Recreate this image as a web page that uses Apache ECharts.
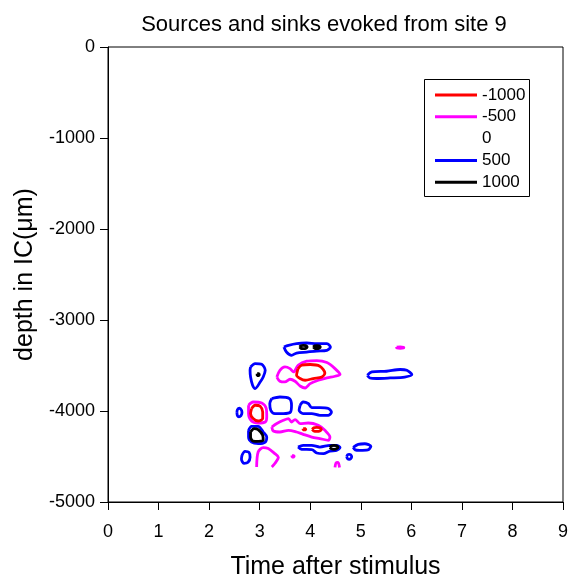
<!DOCTYPE html>
<html>
<head>
<meta charset="utf-8">
<script src="https://cdn.jsdelivr.net/npm/echarts@6/dist/echarts.min.js"></script>
<style>
  html, body { margin: 0; padding: 0; background: #fff; }
  #chart { width: 571px; height: 581px; }
</style>
</head>
<body>
<div id="chart"></div>
<script>
// Contour levels shown in the legend (current source density)
const levels = ['-1000', '-500', '0', '500', '1000'];

// Axis ticks
const timeTicks = [0, 1, 2, 3, 4, 5, 6, 7, 8, 9];
const depthTicks = [0, -1000, -2000, -3000, -4000, -5000];

// Closed contour loops, [time, depth] pairs, one array per level
const loopsNeg1000 = [
  [[3.76,-3534],[3.83,-3497],[4.00,-3489],[4.19,-3508],[4.29,-3582],[4.23,-3627],[4.06,-3643],[3.90,-3662],[3.80,-3643],[3.73,-3607]],
  [[2.84,-3973],[2.91,-3937],[3.01,-3948],[3.06,-4011],[3.06,-4083],[2.97,-4110],[2.87,-4083],[2.82,-4028]],
  [[3.86,-4195],[3.91,-4195],[3.91,-4208],[3.86,-4208]],
  [[4.04,-4202],[4.07,-4185],[4.13,-4180],[4.19,-4185],[4.22,-4202],[4.19,-4219],[4.13,-4224],[4.07,-4219]]
];

const loopsNeg500 = [
  [[5.71,-3298],[5.78,-3295],[5.85,-3298],[5.85,-3308],[5.78,-3311],[5.71,-3308]],
  [[3.34,-3627],[3.40,-3553],[3.50,-3516],[3.60,-3534],[3.67,-3571],[3.76,-3497],[3.93,-3453],[4.13,-3446],[4.33,-3468],[4.49,-3534],[4.59,-3600],[4.49,-3618],[4.33,-3637],[4.16,-3662],[4.00,-3699],[3.90,-3747],[3.80,-3725],[3.70,-3673],[3.60,-3651],[3.50,-3681],[3.40,-3673]],
  [[2.78,-3937],[2.87,-3901],[3.04,-3912],[3.13,-3973],[3.14,-4066],[3.11,-4121],[2.97,-4132],[2.84,-4110],[2.78,-4028]],
  [[3.24,-4176],[3.34,-4138],[3.47,-4102],[3.57,-4083],[3.63,-4121],[3.70,-4094],[3.80,-4138],[3.96,-4132],[4.16,-4157],[4.29,-4212],[4.39,-4286],[4.36,-4322],[4.19,-4303],[4.03,-4286],[3.86,-4256],[3.73,-4231],[3.57,-4212],[3.40,-4231],[3.27,-4220]],
  [[3.64,-4490],[3.68,-4490],[3.68,-4506],[3.64,-4506]]
];

// Contours of -500 that run out through the bottom of the recorded depth range
const arcsNeg500 = [
  [[2.94,-4616],[2.97,-4451],[3.07,-4402],[3.17,-4413],[3.30,-4468],[3.37,-4507],[3.30,-4578],[3.24,-4616]],
  [[4.49,-4620],[4.51,-4570],[4.55,-4565],[4.58,-4620]]
];

const loops500 = [
  [[3.48,-3296],[3.57,-3278],[3.73,-3259],[3.93,-3253],[4.13,-3259],[4.33,-3259],[4.40,-3297],[4.33,-3333],[4.13,-3341],[3.93,-3352],[3.73,-3363],[3.63,-3388],[3.53,-3352]],
  [[2.82,-3516],[2.91,-3479],[3.04,-3487],[3.11,-3553],[3.07,-3627],[3.01,-3682],[2.91,-3754],[2.86,-3718],[2.82,-3627],[2.81,-3553]],
  [[5.13,-3607],[5.22,-3571],[5.51,-3563],[5.78,-3544],[5.91,-3553],[6.01,-3600],[5.87,-3627],[5.58,-3637],[5.31,-3643],[5.18,-3637]],
  [[2.55,-4017],[2.56,-3985],[2.60,-3970],[2.64,-3990],[2.65,-4020],[2.63,-4050],[2.59,-4064],[2.56,-4050]],
  [[3.24,-3863],[3.40,-3846],[3.59,-3863],[3.63,-3937],[3.61,-4011],[3.47,-4028],[3.30,-4028],[3.22,-3992],[3.20,-3918]],
  [[3.80,-3937],[3.86,-3901],[3.96,-3918],[4.03,-3962],[4.19,-3962],[4.36,-3973],[4.42,-4011],[4.36,-4047],[4.19,-4047],[4.03,-4028],[3.86,-4028],[3.78,-3992]],
  [[2.78,-4212],[2.84,-4168],[2.97,-4168],[3.07,-4231],[3.14,-4286],[3.11,-4341],[2.97,-4358],[2.84,-4341],[2.78,-4286]],
  [[3.76,-4396],[3.86,-4377],[4.03,-4377],[4.19,-4396],[4.39,-4377],[4.52,-4377],[4.59,-4402],[4.52,-4432],[4.39,-4440],[4.26,-4468],[4.13,-4461],[4.03,-4424],[3.83,-4421]],
  [[4.85,-4399],[4.95,-4366],[5.08,-4360],[5.20,-4388],[5.14,-4427],[4.98,-4432],[4.89,-4427]],
  [[4.72,-4503],[4.74,-4482],[4.77,-4476],[4.80,-4482],[4.82,-4503],[4.80,-4524],[4.77,-4530],[4.74,-4524]],
  [[2.65,-4487],[2.71,-4443],[2.79,-4454],[2.81,-4509],[2.77,-4564],[2.69,-4575],[2.64,-4531]]
];

const loops1000 = [
  [[3.79,-3297],[3.82,-3282],[3.86,-3279],[3.91,-3282],[3.94,-3297],[3.91,-3312],[3.86,-3315],[3.82,-3312]],
  [[4.06,-3297],[4.09,-3283],[4.13,-3281],[4.17,-3283],[4.20,-3297],[4.17,-3311],[4.13,-3313],[4.09,-3311]],
  [[2.95,-3590],[2.99,-3590],[2.99,-3610],[2.95,-3610]],
  [[2.82,-4231],[2.89,-4193],[2.97,-4204],[3.06,-4267],[3.07,-4322],[2.97,-4333],[2.87,-4330],[2.82,-4286]],
  [[4.39,-4399],[4.42,-4382],[4.47,-4377],[4.52,-4382],[4.55,-4399],[4.52,-4416],[4.47,-4421],[4.42,-4416]]
];

const levelColor = { '-1000': '#ff0000', '-500': '#ff00ff', '0': 'rgba(0,0,0,0)', '500': '#0000ff', '1000': '#000000' };
const FONT = 'Liberation Sans, Arial, sans-serif';

function closeLoop(pts) { return pts.concat([pts[0]]); }

function contourSeries(name, lines, closed) {
  return lines.map(function (pts) {
    return {
      type: 'line',
      name: name,
      data: closed ? closeLoop(pts) : pts,
      showSymbol: false,
      symbol: 'none',
      smooth: 0.3,
      silent: true,
      animation: false,
      color: levelColor[name],
      lineStyle: { width: 2.8, color: levelColor[name] },
      z: name === '1000' || name === '-1000' ? 4 : 3
    };
  });
}

const series = [].concat(
  contourSeries('-1000', loopsNeg1000, true),
  contourSeries('-500', loopsNeg500, true),
  contourSeries('-500', arcsNeg500, false),
  // level 0 carries no visible contour
  [{ type: 'line', name: '0', data: [], color: levelColor['0'], symbol: 'none', lineStyle: { width: 0 } }],
  contourSeries('500', loops500, true),
  contourSeries('1000', loops1000, true)
);

const chart = echarts.init(document.getElementById('chart'), null, { renderer: 'canvas' });
chart.setOption({
  backgroundColor: '#ffffff',
  animation: false,
  title: {
    text: 'Sources and sinks evoked from site 9',
    left: 319, top: 9, textAlign: 'center',
    textStyle: { fontFamily: FONT, fontWeight: 'normal', fontSize: 22, color: '#000' }
  },
  legend: {
    data: levels,
    orient: 'vertical',
    left: 430, top: 80,
    itemWidth: 42, itemHeight: 3, itemGap: 1.8,
    icon: 'rect',
    selectedMode: false,
    textStyle: { fontFamily: FONT, fontSize: 17, color: '#000', lineHeight: 20, padding: [0, 0, 0, 0] }
  },
  graphic: [{
    type: 'rect', left: 422, top: 77, z: 100,
    shape: { width: 105, height: 117 },
    style: { fill: 'none', stroke: '#000', lineWidth: 1 }
  }],
  grid: {
    left: 108, right: 8, top: 47, bottom: 79,
    containLabel: false, outerBoundsMode: 'none',
    show: true, borderColor: '#000', borderWidth: 1, backgroundColor: 'transparent'
  },
  xAxis: {
    type: 'value', min: timeTicks[0], max: timeTicks[timeTicks.length - 1], interval: 1,
    name: 'Time after stimulus', nameLocation: 'middle', nameGap: 53,
    nameTextStyle: { fontFamily: FONT, fontSize: 25, color: '#000' },
    axisLine: { show: true, onZero: false, lineStyle: { color: '#000', width: 1 } },
    axisTick: { show: true, inside: false, length: 8, lineStyle: { color: '#000' } },
    axisLabel: { fontFamily: FONT, fontSize: 18, color: '#000', margin: 21 },
    splitLine: { show: false }
  },
  yAxis: {
    type: 'value', min: depthTicks[depthTicks.length - 1], max: depthTicks[0], interval: 1000,
    name: 'depth in IC(μm)', nameLocation: 'middle', nameGap: 65, nameRotate: 90,
    nameTextStyle: { fontFamily: FONT, fontSize: 25, color: '#000' },
    axisLine: { show: true, onZero: false, lineStyle: { color: '#000', width: 1 } },
    axisTick: { show: true, inside: false, length: 8, lineStyle: { color: '#000' } },
    axisLabel: { fontFamily: FONT, fontSize: 18, color: '#000', margin: 13, formatter: function (v) { return String(v); } },
    splitLine: { show: false }
  },
  series: series
});
</script>
</body>
</html>
